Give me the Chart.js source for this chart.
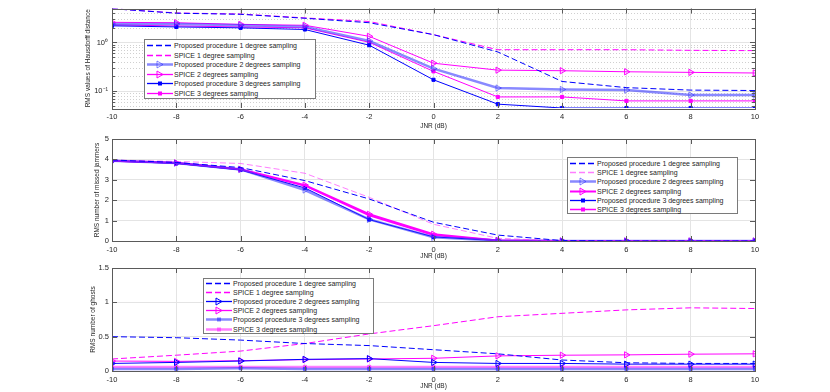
<!DOCTYPE html>
<html><head><meta charset="utf-8">
<script src="https://cdn.jsdelivr.net/npm/chart.js@4.4.1/dist/chart.umd.min.js"></script>
<style>
html,body{margin:0;padding:0;background:#fff;}
#wrap{position:relative;width:830px;height:392px;overflow:hidden;font-family:"Liberation Sans",Arial,Helvetica,sans-serif;}
.pan{position:absolute;left:0;width:830px;}
.leg{position:absolute;background:#fff;border:1px solid #7a7a7a;box-sizing:border-box;font-size:7px;color:#262626;}
.row{display:flex;align-items:center;white-space:nowrap;}
.row svg{flex:none;margin-right:1px;display:block;}
</style></head><body>
<div id="wrap">
  <div class="pan" style="top:0;height:132px"><canvas id="c1" width="830" height="132"></canvas></div>
  <div class="pan" style="top:130px;height:132px"><canvas id="c2" width="830" height="132"></canvas></div>
  <div class="pan" style="top:260px;height:132px"><canvas id="c3" width="830" height="132"></canvas></div>
  <div class="leg" id="l1" style="left:144px;top:39px;width:172px;height:60px;padding-top:1px"></div>
  <div class="leg" id="l2" style="left:567px;top:157px;width:171px;height:57px;padding-top:1px"></div>
  <div class="leg" id="l3" style="left:203px;top:278px;width:171px;height:56px;padding-top:0px"></div>
</div>
<script>
// ---------- data ----------
const jnr = [-10, -8, -6, -4, -2, 0, 2, 4, 6, 8, 10];
const seriesNames = [
  "Proposed procedure 1 degree sampling",
  "SPICE 1 degree sampling",
  "Proposed procedure 2 degrees sampling",
  "SPICE 2 degrees sampling",
  "Proposed procedure 3 degrees sampling",
  "SPICE 3 degrees sampling"
];
// Panel 1: RMS values of Hausdorff distance (log)
const hdProp1  = [4.95, 4.0, 3.8, 3.15, 2.55, 1.45, 0.64, 0.158, 0.118, 0.105, 0.103];
const hdSpice1 = [4.95, 4.05, 3.85, 3.2, 2.7, 1.45, 0.71, 0.71, 0.71, 0.69, 0.68];
const hdProp2  = [2.4, 2.4, 2.26, 2.12, 1.08, 0.29, 0.116, 0.108, 0.105, 0.083, 0.083];
const hdSpice2 = [2.6, 2.55, 2.36, 2.26, 1.34, 0.375, 0.27, 0.263, 0.25, 0.243, 0.236];
const hdProp3  = [2.2, 2.09, 2.0, 1.85, 0.88, 0.171, 0.054, 0.045, 0.045, 0.045, 0.045];
const hdSpice3 = [2.3, 2.19, 2.09, 2.0, 1.01, 0.255, 0.076, 0.076, 0.063, 0.063, 0.063];
// Panel 2: RMS number of missed jammers
const mjProp1  = [3.97, 3.85, 3.6, 2.96, 2.06, 0.92, 0.29, 0.02, 0, 0, 0];
const mjSpice1 = [3.97, 3.9, 3.8, 3.32, 2.14, 0.82, 0.13, 0.01, 0, 0, 0];
const mjProp2  = [3.93, 3.82, 3.51, 2.5, 1.06, 0.18, 0.02, 0, 0, 0, 0];
const mjSpice2 = [3.93, 3.83, 3.52, 2.74, 1.31, 0.33, 0.03, 0, 0, 0, 0];
const mjProp3  = [3.92, 3.8, 3.48, 2.6, 1.05, 0.2, 0.02, 0, 0, 0, 0];
const mjSpice3 = [3.92, 3.82, 3.5, 2.7, 1.25, 0.28, 0.04, 0, 0, 0, 0];
// Panel 3: RMS number of ghosts
const ghProp1  = [0.5, 0.485, 0.45, 0.4, 0.37, 0.31, 0.25, 0.16, 0.12, 0.11, 0.11];
const ghSpice1 = [0.175, 0.23, 0.29, 0.4, 0.54, 0.66, 0.79, 0.84, 0.89, 0.92, 0.91];
const ghProp2  = [0.11, 0.125, 0.145, 0.17, 0.18, 0.125, 0.11, 0.11, 0.1, 0.1, 0.1];
const ghSpice2 = [0.145, 0.14, 0.15, 0.165, 0.175, 0.185, 0.22, 0.23, 0.235, 0.245, 0.25];
const ghProp3  = [0.03, 0.03, 0.04, 0.03, 0.03, 0.03, 0.03, 0.03, 0.03, 0.03, 0.03];
const ghSpice3 = [0.06, 0.06, 0.06, 0.06, 0.06, 0.06, 0.06, 0.06, 0.06, 0.06, 0.06];

const yTitles = ["RMS values of Hausdorff distance", "RMS number of missed jammers", "RMS number of ghosts"];
const xTitle = "JNR (dB)";
const logTickVals = [0.05,0.06,0.07,0.08,0.09,0.1,0.2,0.3,0.4,0.5,0.6,0.7,0.8,0.9,1,2,3,4,5];

// ---------- styles ----------
const BLUE='#0000ff', LBLUE='rgba(40,40,255,0.55)', MAG='#ff00ff', LMAG='rgba(255,40,255,0.6)';
const FONT='"Liberation Sans", Arial, Helvetica, sans-serif';
const TXT='#262626';

function ds(label, vals, st){
  const tri = st.m==='tri', sq = st.m==='sq';
  return {
    label, data: jnr.map((x,i)=>({x, y: vals[i]})),
    borderColor: st.c, backgroundColor: st.c, borderWidth: st.w,
    borderDash: st.d ? [6,3] : [],
    pointStyle: tri ? 'triangle' : 'rect',
    pointRotation: tri ? 90 : 0,
    pointRadius: tri ? 3.6 : (sq ? 2.2 : 0),
    pointHoverRadius: 0,
    pointBorderColor: st.c, pointBorderWidth: 1,
    pointBackgroundColor: tri ? 'rgba(255,255,255,0)' : st.c,
    tension: 0, fill: false
  };
}

const styles1 = [
  {c:BLUE,w:1,d:true},{c:MAG,w:1,d:true},
  {c:LBLUE,w:2.5,m:'tri'},{c:MAG,w:1,m:'tri'},
  {c:BLUE,w:1,m:'sq'},{c:MAG,w:1,m:'sq'}];
const styles2 = [
  {c:BLUE,w:1,d:true},{c:LMAG,w:1,d:true},
  {c:LBLUE,w:2.5,m:'tri'},{c:MAG,w:2,m:'tri'},
  {c:BLUE,w:1,m:'sq'},{c:MAG,w:1.5,m:'sq'}];
const styles3 = [
  {c:BLUE,w:1,d:true},{c:MAG,w:1,d:true},
  {c:BLUE,w:1,m:'tri'},{c:MAG,w:1,m:'tri'},
  {c:LBLUE,w:2.5,m:'sq'},{c:LMAG,w:2.5,m:'sq'}];

const boxPlugin = {
  id:'box',
  beforeDatasetsDraw(chart, args, opts){
    if(!opts.minor) return;
    const ctx=chart.ctx, {left,right}=chart.chartArea, y=chart.scales.y;
    ctx.save(); ctx.strokeStyle='#d0d0d0'; ctx.lineWidth=1; ctx.setLineDash([1,2]);
    y.ticks.forEach(t=>{
      if(t.value===1||Math.abs(t.value-0.1)<1e-9) return;
      const py=Math.round(y.getPixelForValue(t.value))+0.5;
      ctx.beginPath(); ctx.moveTo(left,py); ctx.lineTo(right,py); ctx.stroke();
    });
    ctx.restore();
  },
  afterDatasetsDraw(chart, args, opts){
    const ctx=chart.ctx, {left,right,top,bottom}=chart.chartArea;
    const xs=chart.scales.x, ys=chart.scales.y;
    ctx.save(); ctx.strokeStyle='#5a5a5a'; ctx.lineWidth=1; ctx.setLineDash([]);
    ctx.strokeRect(Math.round(left)+0.5, Math.round(top)+0.5, Math.round(right-left), Math.round(bottom-top));
    ctx.beginPath();
    xs.ticks.forEach(t=>{
      const px=Math.round(xs.getPixelForValue(t.value))+0.5;
      ctx.moveTo(px,bottom); ctx.lineTo(px,bottom-5);
      ctx.moveTo(px,top); ctx.lineTo(px,top+5);
    });
    ys.ticks.forEach(t=>{
      const major = !opts.minor || t.value===1 || Math.abs(t.value-0.1)<1e-9;
      const L = major ? 5 : 3;
      const py=Math.round(ys.getPixelForValue(t.value))+0.5;
      ctx.moveTo(left,py); ctx.lineTo(left+L,py);
      ctx.moveTo(right,py); ctx.lineTo(right-L,py);
    });
    ctx.stroke(); ctx.restore();
  }
};

function makeChart(id, datasets, yopts, pad, yW, xH, minor, ytitle){
  const yScale = Object.assign({
    title:{display:true,text:ytitle,color:TXT,font:{family:FONT,size:6.5},padding:{top:0,bottom:0}},
    ticks:{color:TXT,font:{family:FONT,size:7.5},padding:3,autoSkip:false},
    grid:{color:'#e4e4e4',drawTicks:false},
    border:{display:false},
    afterFit(s){ s.width=yW; }
  }, yopts);
  return new Chart(document.getElementById(id), {
    type:'line',
    data:{datasets},
    options:{
      responsive:false, animation:false, devicePixelRatio:1,
      layout:{padding:pad},
      plugins:{legend:{display:false},tooltip:{enabled:false},box:{minor}},
      scales:{
        x:{type:'linear',min:-10,max:10,
           ticks:{stepSize:2,color:TXT,font:{family:FONT,size:7.5},padding:4,maxRotation:0},
           grid:{color:'#e4e4e4',drawTicks:false},border:{display:false},
           title:{display:true,text:xTitle,color:TXT,font:{family:FONT,size:6.5},padding:{top:0,bottom:2}},
           afterFit(s){ s.height=xH; }},
        y: yScale
      }
    },
    plugins:[boxPlugin]
  });
}

const d1=[hdProp1,hdSpice1,hdProp2,hdSpice2,hdProp3,hdSpice3].map((v,i)=>ds(seriesNames[i],v,styles1[i]));
const d2=[mjProp1,mjSpice1,mjProp2,mjSpice2,mjProp3,mjSpice3].map((v,i)=>ds(seriesNames[i],v,styles2[i]));
const d3=[ghProp1,ghSpice1,ghProp2,ghSpice2,ghProp3,ghSpice3].map((v,i)=>ds(seriesNames[i],v,styles3[i]));

makeChart('c1', d1, {
  type:'logarithmic', min:0.045, max:5,
  afterBuildTicks(s){ s.ticks = logTickVals.map(v=>({value:v})); },
  ticks:{color:TXT,font:{family:FONT,size:7.5},padding:4,autoSkip:false,
    callback:(v)=> v===1 ? '10\u2070' : (Math.abs(v-0.1)<1e-9 ? '10\u207B\u00B9' : '')},
  grid:{drawTicks:false, color:(c)=> (c.tick && (c.tick.value===1 || Math.abs(c.tick.value-0.1)<1e-9)) ? '#e4e4e4' : 'rgba(0,0,0,0)'}
}, {left:84,right:75,top:6,bottom:0}, 28, 24, true, yTitles[0]);

makeChart('c2', d2, {type:'linear',min:0,max:5,
  ticks:{stepSize:1,color:TXT,font:{family:FONT,size:7.5},padding:3,autoSkip:false,callback:(v)=>String(v)}},
  {left:93,right:75,top:9,bottom:0}, 19, 21, false, yTitles[1]);

makeChart('c3', d3, {type:'linear',min:0,max:1.5,
  ticks:{stepSize:0.5,color:TXT,font:{family:FONT,size:7.5},padding:3,autoSkip:false,callback:(v)=>String(v)}},
  {left:89,right:75,top:8,bottom:0}, 23, 21, false, yTitles[2]);

// ---------- legends (HTML text, SVG samples) ----------
function sample(st){
  const dash = st.d ? ' stroke-dasharray="6,3"' : '';
  const w = st.w < 1.5 ? 1.3 : st.w;
  let s = `<svg width="28" height="9"><line x1="2" y1="4.5" x2="28" y2="4.5" stroke="${st.c}" stroke-width="${w}"${dash}/>`;
  if(st.m==='tri') s += `<polygon points="12,1 18,4.5 12,8" fill="none" stroke="${st.c}" stroke-width="1"/>`;
  if(st.m==='sq') s += `<rect x="13" y="2.5" width="4" height="4" fill="${st.c}"/>`;
  return s + '</svg>';
}
function legend(id, styles, rowH){
  document.getElementById(id).innerHTML = seriesNames.map((n,i)=>
    `<div class="row" style="height:${rowH}px">${sample(styles[i])}<span>${n}</span></div>`).join('');
}
legend('l1', styles1, 9.5);
legend('l2', styles2, 9.2);
legend('l3', styles3, 9.1);
</script>
</body></html>
